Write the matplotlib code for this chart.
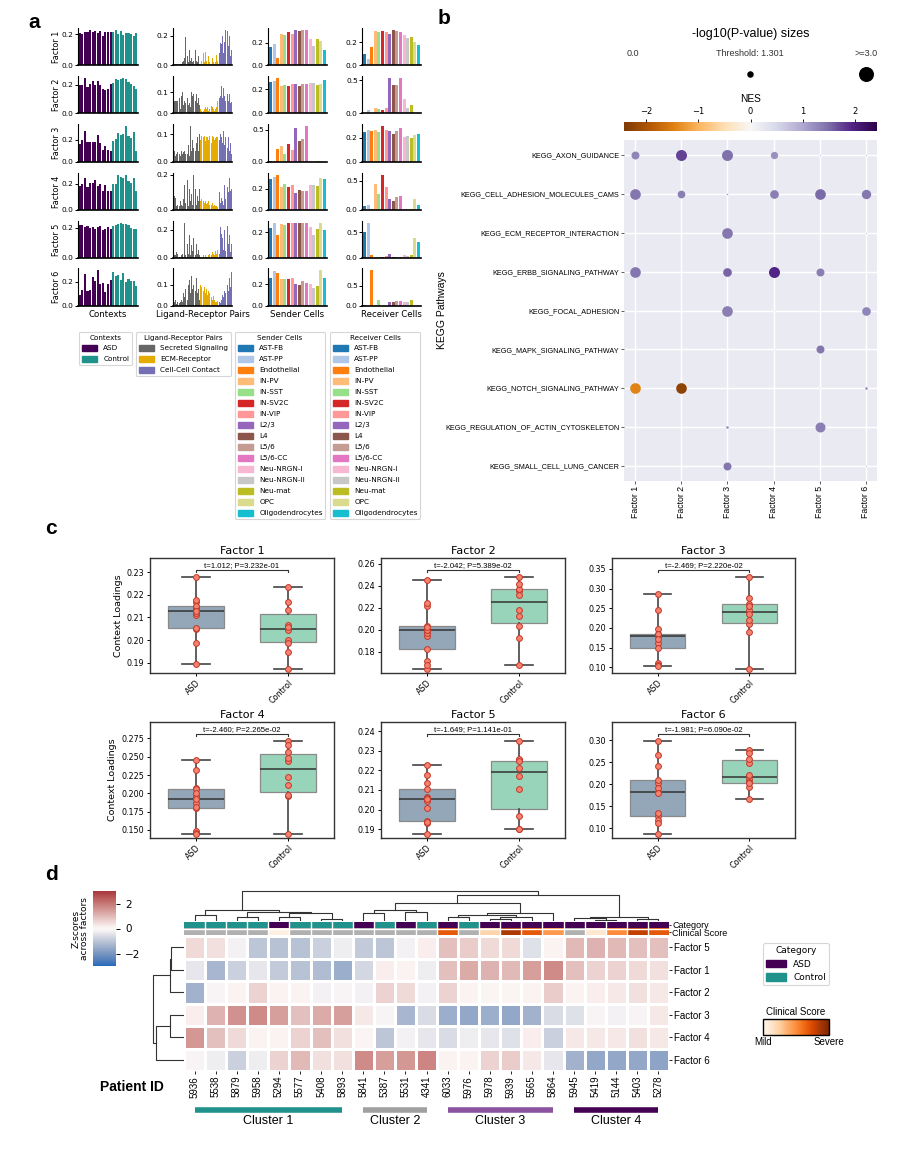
import numpy as np
import matplotlib
matplotlib.use("Agg")
import matplotlib.pyplot as plt
import seaborn as sns
from matplotlib.patches import Patch
from matplotlib.colors import Normalize, to_rgb
from matplotlib.cm import ScalarMappable

# ---------------- data ----------------
factors = ["Factor 1", "Factor 2", "Factor 3", "Factor 4", "Factor 5", "Factor 6"]

context_groups = ["ASD"] * 13 + ["Control"] * 10
context_loadings = [
    [0.2050, 0.1988, 0.2112, 0.2120, 0.2277, 0.2145, 0.2168, 0.2053, 0.2178, 0.1894, 0.2134, 0.2150, 0.2128,
     0.2132, 0.2233, 0.2003, 0.2168, 0.1950, 0.2044, 0.2068, 0.1988, 0.1874, 0.2056],
    [0.1940, 0.1970, 0.2455, 0.1827, 0.2039, 0.2220, 0.1997, 0.2245, 0.2003, 0.1720, 0.1645, 0.1680, 0.2024,
     0.2124, 0.2358, 0.2318, 0.2373, 0.2479, 0.2418, 0.2185, 0.2039, 0.1930, 0.1679],
    [0.1619, 0.1983, 0.2856, 0.1810, 0.1797, 0.1847, 0.1840, 0.2458, 0.1729, 0.1110, 0.1483, 0.1060, 0.1034,
     0.1890, 0.2102, 0.2610, 0.2466, 0.2550, 0.3288, 0.2364, 0.2212, 0.2763, 0.0958],
    [0.1863, 0.1964, 0.2460, 0.1804, 0.2079, 0.2065, 0.2313, 0.1820, 0.2000, 0.1482, 0.1928, 0.1465, 0.1450,
     0.1966, 0.1980, 0.2709, 0.2562, 0.2438, 0.2659, 0.2218, 0.2113, 0.2480, 0.1447],
    [0.2227, 0.2177, 0.2066, 0.2133, 0.2008, 0.2060, 0.1933, 0.2045, 0.2103, 0.1876, 0.1940, 0.2055, 0.1938,
     0.2107, 0.2210, 0.2250, 0.2347, 0.2258, 0.2246, 0.2172, 0.1969, 0.1902, 0.1900],
    [0.0877, 0.1276, 0.2671, 0.1199, 0.1352, 0.2425, 0.2042, 0.2977, 0.1835, 0.1927, 0.1123, 0.1812, 0.2103,
     0.2785, 0.2487, 0.2579, 0.2134, 0.2709, 0.1950, 0.2210, 0.2045, 0.2042, 0.1674],
]

lr_groups = ["Secreted Signaling"] * 30 + ["ECM-Receptor"] * 22 + ["Cell-Cell Contact"] * 14
lr_loadings = [
    [0.005, 0.005, 0.005, 0.005, 0.005, 0.005, 0.005, 0.005, 0.005, 0.005, 0.02, 0.03, 0.05, 0.19, 0.15,
     0.04, 0.06, 0.02, 0.10, 0.03, 0.05, 0.02, 0.03, 0.07, 0.02, 0.10, 0.03, 0.02, 0.06, 0.01,
     0.01, 0.03, 0.02, 0.04, 0.08, 0.02, 0.09, 0.03, 0.01, 0.06, 0.02, 0.08, 0.02, 0.01, 0.05, 0.02,
     0.01, 0.02, 0.07, 0.03, 0.06, 0.02,
     0.08, 0.15, 0.14, 0.20, 0.08, 0.16, 0.24, 0.22, 0.08, 0.23, 0.13, 0.20, 0.06, 0.10],
    [0.06, 0.06, 0.06, 0.06, 0.06, 0.03, 0.06, 0.07, 0.02, 0.08, 0.10, 0.04, 0.06, 0.05, 0.09,
     0.03, 0.07, 0.04, 0.05, 0.03, 0.10, 0.08, 0.09, 0.11, 0.10, 0.06, 0.09, 0.05, 0.07, 0.04,
     0.02, 0.01, 0.03, 0.02, 0.01, 0.02, 0.03, 0.02, 0.03, 0.01, 0.02, 0.03, 0.02, 0.035, 0.03, 0.02,
     0.01, 0.02, 0.03, 0.06, 0.17, 0.15,
     0.07, 0.08, 0.13, 0.07, 0.12, 0.08, 0.06, 0.10, 0.05, 0.09, 0.06, 0.09, 0.05, 0.055],
    [0.04, 0.04, 0.02, 0.03, 0.035, 0.01, 0.03, 0.03, 0.02, 0.04, 0.03, 0.035, 0.04, 0.03, 0.02,
     0.05, 0.03, 0.06, 0.02, 0.13, 0.04, 0.08, 0.05, 0.03, 0.06, 0.04, 0.07, 0.09, 0.04, 0.10,
     0.08, 0.095, 0.09, 0.07, 0.09, 0.095, 0.075, 0.09, 0.09, 0.08, 0.095, 0.085, 0.09, 0.07, 0.095, 0.09,
     0.08, 0.085, 0.09, 0.09, 0.10, 0.09,
     0.08, 0.10, 0.09, 0.07, 0.11, 0.06, 0.09, 0.08, 0.06, 0.05, 0.09, 0.04, 0.07, 0.03],
    [0.02, 0.08, 0.07, 0.02, 0.03, 0.01, 0.04, 0.02, 0.05, 0.03, 0.02, 0.06, 0.14, 0.04, 0.10,
     0.03, 0.17, 0.02, 0.12, 0.05, 0.09, 0.03, 0.20, 0.06, 0.04, 0.12, 0.03, 0.08, 0.05, 0.12,
     0.05, 0.06, 0.04, 0.06, 0.05, 0.04, 0.05, 0.035, 0.04, 0.05, 0.03, 0.04, 0.035, 0.03, 0.04, 0.02,
     0.03, 0.02, 0.025, 0.015, 0.02, 0.11,
     0.10, 0.04, 0.07, 0.05, 0.03, 0.14, 0.06, 0.09, 0.04, 0.13, 0.10, 0.18, 0.11, 0.12],
    [0.01, 0.02, 0.02, 0.04, 0.03, 0.01, 0.01, 0.01, 0.01, 0.02, 0.03, 0.01, 0.25, 0.02, 0.13,
     0.05, 0.10, 0.03, 0.16, 0.02, 0.09, 0.05, 0.14, 0.03, 0.07, 0.02, 0.10, 0.03, 0.06, 0.02,
     0.01, 0.005, 0.01, 0.01, 0.02, 0.01, 0.02, 0.01, 0.01, 0.02, 0.03, 0.02, 0.03, 0.02, 0.04, 0.03,
     0.02, 0.05, 0.03, 0.06, 0.04, 0.07,
     0.03, 0.22, 0.17, 0.14, 0.06, 0.20, 0.05, 0.12, 0.03, 0.23, 0.10, 0.16, 0.04, 0.10],
    [0.04, 0.02, 0.03, 0.01, 0.02, 0.02, 0.01, 0.015, 0.02, 0.03, 0.02, 0.06, 0.04, 0.08, 0.05,
     0.09, 0.03, 0.10, 0.12, 0.06, 0.14, 0.08, 0.10, 0.17, 0.05, 0.07, 0.13, 0.06, 0.08, 0.03,
     0.10, 0.09, 0.10, 0.08, 0.07, 0.09, 0.06, 0.08, 0.05, 0.07, 0.06, 0.04, 0.05, 0.04, 0.03, 0.045,
     0.03, 0.02, 0.02, 0.025, 0.015, 0.01,
     0.02, 0.015, 0.03, 0.05, 0.04, 0.07, 0.06, 0.08, 0.05, 0.10, 0.07, 0.13, 0.09, 0.16],
]

cell_types = ["AST-FB", "AST-PP", "Endothelial", "IN-PV", "IN-SST", "IN-SV2C", "IN-VIP", "L2/3", "L4",
              "L5/6", "L5/6-CC", "Neu-NRGN-I", "Neu-NRGN-II", "Neu-mat", "OPC", "Oligodendrocytes"]
sender_loadings = [
    [0.165, 0.19, 0.065, 0.28, 0.27, 0.30, 0.28, 0.32, 0.31, 0.32, 0.32, 0.24, 0.17, 0.235, 0.22, 0.14],
    [0.26, 0.27, 0.295, 0.225, 0.235, 0.23, 0.245, 0.245, 0.23, 0.24, 0.245, 0.25, 0.25, 0.235, 0.245, 0.275],
    [0.01, 0.01, 0.20, 0.24, 0.12, 0.28, 0.18, 0.53, 0.33, 0.36, 0.56, 0.01, 0.005, 0.02, 0.01, 0.005],
    [0.29, 0.31, 0.33, 0.22, 0.245, 0.215, 0.235, 0.16, 0.19, 0.18, 0.18, 0.235, 0.235, 0.225, 0.30, 0.29],
    [0.235, 0.275, 0.18, 0.265, 0.26, 0.275, 0.27, 0.27, 0.27, 0.275, 0.275, 0.24, 0.18, 0.23, 0.275, 0.22],
    [0.255, 0.32, 0.30, 0.245, 0.245, 0.245, 0.255, 0.20, 0.19, 0.23, 0.21, 0.20, 0.16, 0.18, 0.33, 0.255],
]
receiver_loadings = [
    [0.10, 0.055, 0.16, 0.30, 0.29, 0.30, 0.29, 0.27, 0.31, 0.30, 0.29, 0.265, 0.24, 0.25, 0.20, 0.18],
    [0.005, 0.04, 0.005, 0.08, 0.06, 0.04, 0.08, 0.53, 0.43, 0.43, 0.54, 0.21, 0.08, 0.12, 0.005, 0.005],
    [0.25, 0.265, 0.26, 0.265, 0.25, 0.30, 0.265, 0.26, 0.235, 0.26, 0.28, 0.21, 0.215, 0.20, 0.22, 0.235],
    [0.06, 0.09, 0.01, 0.44, 0.28, 0.60, 0.39, 0.19, 0.16, 0.22, 0.24, 0.02, 0.01, 0.02, 0.18, 0.08],
    [0.50, 0.68, 0.06, 0.01, 0.01, 0.01, 0.04, 0.08, 0.01, 0.01, 0.01, 0.05, 0.03, 0.06, 0.38, 0.31],
    [0.02, 0.01, 0.90, 0.02, 0.16, 0.01, 0.01, 0.11, 0.11, 0.13, 0.13, 0.09, 0.11, 0.14, 0.01, 0.01],
]

t_stats = [1.012, -2.042, -2.469, -2.460, -1.649, -1.981]
p_values = [3.232e-01, 5.389e-02, 2.220e-02, 2.265e-02, 1.141e-01, 6.090e-02]

pathways = ["KEGG_AXON_GUIDANCE", "KEGG_CELL_ADHESION_MOLECULES_CAMS", "KEGG_ECM_RECEPTOR_INTERACTION",
            "KEGG_ERBB_SIGNALING_PATHWAY", "KEGG_FOCAL_ADHESION", "KEGG_MAPK_SIGNALING_PATHWAY",
            "KEGG_NOTCH_SIGNALING_PATHWAY", "KEGG_REGULATION_OF_ACTIN_CYTOSKELETON", "KEGG_SMALL_CELL_LUNG_CANCER"]
nlog_p = [
    [1.60, 2.20, 2.20, 1.46, 0.20, 0.20],
    [2.13, 1.53, 0.30, 1.73, 2.13, 1.87],
    [0.00, 0.00, 2.13, 0.00, 0.00, 0.20],
    [2.13, 0.00, 1.73, 2.20, 1.60, 0.00],
    [0.00, 0.00, 2.13, 0.10, 0.00, 1.73],
    [0.00, 0.00, 0.00, 0.10, 1.60, 0.00],
    [2.13, 2.13, 0.00, 0.00, 0.10, 0.50],
    [0.00, 0.00, 0.50, 0.00, 2.00, 0.00],
    [0.00, 0.00, 1.60, 0.00, 0.00, 0.20],
]
nes = [
    [1.30, 1.75, 1.45, 1.20, 1.00, 1.00],
    [1.40, 1.35, 1.20, 1.35, 1.50, 1.40],
    [0.00, 0.00, 1.40, 0.00, 0.00, 1.00],
    [1.40, 0.00, 1.55, 1.95, 1.35, 0.00],
    [0.00, 0.00, 1.35, 1.00, 0.00, 1.30],
    [0.00, 0.00, 0.00, 1.00, 1.40, 0.00],
    [-1.45, -2.25, 0.00, 0.00, 1.00, 1.30],
    [0.00, 0.00, 1.30, 0.00, 1.35, 0.00],
    [0.00, 0.00, 1.40, 0.00, 0.00, 1.00],
]
size_legend_values = [0.0, 1.301, 3.0]
size_legend_labels = ["0.0", "Threshold: 1.301", ">=3.0"]

patient_ids = ["5936", "5538", "5879", "5958", "5294", "5577", "5408", "5893", "5841", "5387", "5531", "4341",
               "6033", "5976", "5978", "5939", "5565", "5864", "5945", "5419", "5144", "5403", "5278"]
patient_category = ["Control", "Control", "Control", "Control", "ASD", "Control", "Control", "Control",
                    "ASD", "Control", "ASD", "Control", "ASD", "Control", "ASD", "ASD", "ASD", "ASD",
                    "ASD", "ASD", "ASD", "ASD", "ASD"]
nan = float("nan")
clinical_score = [nan, nan, nan, nan, 0.05, nan, nan, nan, nan, nan, nan, nan,
                  0.68, nan, 0.22, 0.85, 0.68, 0.45, nan, 0.12, 0.50, 0.80, 0.68]
patient_cluster = [1] * 8 + [2] * 4 + [3] * 6 + [4] * 5
heat_rows = ["Factor 5", "Factor 1", "Factor 2", "Factor 3", "Factor 4", "Factor 6"]
zscores = [
    [0.5, 0.4, -0.2, -1.0, -1.1, -1.1, -0.8, -0.3, -0.9, -1.0, -0.2, 0.2, 0.9, 0.7, 0.5, 0.5, -0.5, 0.1, 1.0, 1.1, 1.0, 0.9, 0.9],
    [-0.4, -1.3, -0.8, -0.4, -0.9, -1.1, -1.2, -1.5, -0.7, 0.2, 0.1, -0.3, 0.9, 1.2, 1.1, 1.0, 1.4, 1.7, 0.9, 0.6, 0.6, 0.5, 0.4],
    [-1.4, -0.1, 0.1, 0.6, 0.1, 0.1, -0.2, -0.1, -0.2, 0.6, 0.5, -0.2, 0.6, 0.1, 0.05, 0.05, 0.1, 0.7, 0.1, 0.2, 0.3, 0.4, 0.3],
    [0.2, 1.1, 1.6, 1.7, 1.4, 0.9, 1.2, 1.4, 0.3, -0.1, -1.3, -0.6, -1.5, -1.6, -1.5, -1.6, -1.4, -0.6, -0.5, -0.1, -0.2, -0.1, 0.3],
    [1.5, 0.9, 0.5, 0.1, 0.1, 0.6, 0.9, 0.4, 0.0, -1.0, -0.2, -0.4, -0.6, -0.3, -0.4, -0.5, 0.2, -0.8, 0.3, 0.3, 0.3, 0.4, 0.3],
    [-0.1, -0.3, -0.8, -0.3, 0.6, 1.0, 0.4, 0.4, 1.7, 1.4, 1.5, 1.8, 0.1, 0.1, 0.6, 0.7, 0.3, -0.4, -1.4, -1.6, -1.6, -1.6, -1.7],
]
# dendrograms as (left, right, distance); leaves are displayed positions
col_tree = (((0, 1, 2.0), ((2, 3, 1.3), ((4, 5, 1.3), (6, 7, 0.7), 2.6), 3.0), 3.7),
            ((((8, 9, 2.7), (10, 11, 3.0), 3.6),
              ((((12, 13, 1.3), ((14, 15, 0.8), 16, 1.3), 2.0), 17, 2.7)), 6.0),
             ((18, (19, 20, 0.5), 1.0), (21, 22, 0.7), 1.4), 8.7), 10.0)
row_tree = ((((0, 1, 13), 2, 14)), ((3, 4, 14), 5, 28), 31)

# ---------------- styling ----------------
context_palette = {"ASD": "#440154", "Control": "#21918c"}
lr_palette = {"Secreted Signaling": "#666666", "ECM-Receptor": "#e6ab02", "Cell-Cell Contact": "#7570b3"}
cell_palette = ["#1f77b4", "#aec7e8", "#ff7f0e", "#ffbb78", "#98df8a", "#d62728", "#ff9896", "#9467bd",
                "#8c564b", "#c49c94", "#e377c2", "#f7b6d2", "#c7c7c7", "#bcbd22", "#dbdb8d", "#17becf"]
cluster_colors = {1: "#21918c", 2: "#a0a0a0", 3: "#8a529f", 4: "#440154"}
ARIAL = "Liberation Sans"

W, H = 923, 1152
fig = plt.figure(figsize=(W / 100, H / 100), dpi=100)


def add_ax(l, t, r, b):
    return fig.add_axes([l / W, 1 - b / H, (r - l) / W, (b - t) / H])


def ftext(x, y, s, **kw):
    return fig.text(x / W, 1 - y / H, s, **kw)


# ---------------- panel a ----------------
col_l = [78, 173, 268, 362]
col_r = [138, 232, 327, 421]
row_t = [28, 76, 124, 173, 221, 268]
row_b = [65, 113, 162, 210, 258, 306]
blocks = [
    ("Contexts", context_loadings, [context_palette[g] for g in context_groups], 0.8),
    ("Ligand-Receptor Pairs", lr_loadings, [lr_palette[g] for g in lr_groups], 0.9),
    ("Sender Cells", sender_loadings, cell_palette, 0.8),
    ("Receiver Cells", receiver_loadings, cell_palette, 0.8),
]
for i in range(6):
    for j, (label, vals, colors, w) in enumerate(blocks):
        ax = add_ax(col_l[j], row_t[i], col_r[j], row_b[i])
        v = vals[i]
        ax.bar(np.arange(len(v)), v, width=w, color=colors, linewidth=0)
        top = max(v)
        step = 0.1 if top < 0.2 else (0.2 if top < 0.5 else 0.5)
        ax.set_yticks([0, step])
        ax.set_yticklabels([f"{t:.1f}" for t in (0, step)])
        ax.set_xticks([])
        ax.set_xlim(-0.7, len(v) - 0.3)
        for s in ["top", "right"]:
            ax.spines[s].set_visible(False)
        ax.spines["bottom"].set_linewidth(1.2)
        ax.spines["left"].set_linewidth(0.8)
        ax.tick_params(labelsize=5.3, length=2, pad=1, width=0.7)
        if j == 0:
            ax.set_ylabel(factors[i], fontsize=5.8, labelpad=1)
        if i == 5:
            ax.set_xlabel(label, fontsize=6.2, labelpad=3)


def px_legend(handles, title, x, y, fs=5.2, spacing=0.62, **kw):
    leg = fig.legend(handles=handles, title=title, loc="upper left", bbox_to_anchor=(x / W, 1 - y / H),
                     fontsize=fs, title_fontsize=fs, frameon=True, handlelength=2.2, handleheight=0.9,
                     labelspacing=spacing, borderpad=0.35, borderaxespad=0, handletextpad=0.8,
                     edgecolor="#cccccc", fancybox=True, **kw)
    leg.get_frame().set_linewidth(0.8)
    return leg


px_legend([Patch(color=context_palette[k], label=k) for k in context_palette], "Contexts", 79, 332)
px_legend([Patch(color=lr_palette[k], label=k) for k in lr_palette], "Ligand-Receptor Pairs", 136, 332)
px_legend([Patch(color=cell_palette[k], label=c) for k, c in enumerate(cell_types)], "Sender Cells", 235, 332)
px_legend([Patch(color=cell_palette[k], label=c) for k, c in enumerate(cell_types)], "Receiver Cells", 330, 332)

# ---------------- panel b ----------------
axb = add_ax(624, 140, 877, 481)
axb.set_facecolor("#EAEAF2")
norm = Normalize(-2.42, 2.42)
cmap_nes = plt.get_cmap("PuOr")
px_per_unit = 5.0
for pi in range(len(pathways)):
    for fi in range(6):
        val = min(nlog_p[pi][fi], 3.0)
        if val <= 0:
            continue
        axb.scatter(fi, pi, s=(px_per_unit * val * 0.72) ** 2, color=cmap_nes(norm(nes[pi][fi])),
                    linewidth=0, zorder=3)
axb.set_xticks(range(6))
axb.set_xticklabels(factors, rotation=90, fontsize=6.3, family=ARIAL)
axb.set_yticks(range(len(pathways)))
axb.set_yticklabels(pathways, fontsize=5.2, family=ARIAL)
axb.set_xlim(-0.24, 5.24)
axb.set_ylim(len(pathways) - 1 + 0.39, -0.39)
axb.grid(color="white", linewidth=1.0)
axb.set_axisbelow(True)
for s in axb.spines.values():
    s.set_visible(False)
axb.tick_params(length=2, width=0.6, color="#444444", pad=1.5)
ftext(442, 310, "KEGG Pathways", rotation=90, ha="center", va="center", fontsize=7.5, family=ARIAL)

cax = add_ax(624, 122, 877, 131)
cb = fig.colorbar(ScalarMappable(norm=norm, cmap=cmap_nes), cax=cax, orientation="horizontal")
cax.xaxis.set_ticks_position("top")
cax.xaxis.set_label_position("top")
cb.set_ticks([-2, -1, 0, 1, 2])
cb.outline.set_visible(False)
cax.tick_params(labelsize=6, length=2.5, width=0.6, pad=1.5)
cb.set_label("NES", fontsize=7.3, family=ARIAL, labelpad=4)

axl = add_ax(600, 25, 900, 88)
axl.set_xlim(600, 900)
axl.set_ylim(88, 25)
axl.axis("off")
leg_x = np.linspace(633, 866, len(size_legend_values))
for xv, v, lab in zip(leg_x, size_legend_values, size_legend_labels):
    axl.text(xv, 54, lab, ha="center", va="center", fontsize=6.5, family=ARIAL, color="#333333")
    if v > 0:
        axl.scatter(xv, 74, s=(px_per_unit * min(v, 3.0) * 0.72) ** 2, color="black", linewidth=0)
ftext(751, 34, "-log10(P-value) sizes", ha="center", va="center", fontsize=9, family=ARIAL)

# ---------------- panel c ----------------
c_cols = [(150, 334), (381, 565), (612, 795)]
c_rows = [(558, 673), (722, 838)]
box_colors = {"ASD": "#93a7b8", "Control": "#98d4b9"}
groups = ["ASD", "Control"]
for f in range(6):
    (l, r), (t, b) = c_cols[f % 3], c_rows[f // 3]
    ax = add_ax(l, t, r, b)
    vals = np.array(context_loadings[f])
    data = [vals[[g == grp for g in context_groups]] for grp in groups]
    bp = ax.boxplot(data, positions=[0, 1], widths=0.6, whis=(0, 100), patch_artist=True,
                    showfliers=False, zorder=1,
                    medianprops=dict(color="#333333", linewidth=1.1),
                    whiskerprops=dict(color="#444444", linewidth=1.2),
                    capprops=dict(color="#444444", linewidth=1.2),
                    boxprops=dict(edgecolor="#8a8a8a", linewidth=0.9))
    for patch, grp in zip(bp["boxes"], groups):
        patch.set_facecolor(box_colors[grp])
    for k, d in enumerate(data):
        ax.plot(np.full(len(d), k), d, "o", ms=4.2, mfc="#f4826f", mec="#c0392b", mew=0.7, zorder=3)
    lo, hi = vals.min(), vals.max()
    rng = hi - lo
    ax.set_ylim(lo - 0.045 * rng, hi + 0.21 * rng)
    ax.set_xlim(-0.5, 1.5)
    yb = hi + 0.08 * rng
    ax.plot([0, 0, 1, 1], [yb - 0.025 * rng, yb, yb, yb - 0.025 * rng], color="#333333", lw=0.8)
    ax.text(0.5, yb + 0.012 * rng, f"t={t_stats[f]:.3f}; P={p_values[f]:.3e}", ha="center", va="bottom",
            fontsize=5.6, family=ARIAL)
    ax.set_xticks([0, 1])
    ax.set_xticklabels(groups, rotation=45, ha="right", rotation_mode="anchor")
    ax.tick_params(labelsize=5.8, length=2.5, width=0.7, pad=1.5)
    for s in ax.spines.values():
        s.set_color("#333333")
        s.set_linewidth(1.0)
    ax.set_title(factors[f], fontsize=8, pad=3)
    if f % 3 == 0:
        ax.set_ylabel("Context Loadings", fontsize=6.8, labelpad=3)

# ---------------- panel d ----------------
n_p = len(patient_ids)
vlag = sns.color_palette("vlag", as_cmap=True)
axh = add_ax(184, 936, 669, 1071)
axh.pcolormesh(np.array(zscores), cmap=vlag, vmin=-3, vmax=3, edgecolors="white", linewidth=1.0)
axh.set_xlim(0, n_p)
axh.set_ylim(len(heat_rows), 0)
axh.set_xticks(np.arange(n_p) + 0.5)
axh.set_xticklabels(patient_ids, rotation=90, fontsize=7, family=ARIAL)
axh.yaxis.tick_right()
axh.set_yticks(np.arange(len(heat_rows)) + 0.5)
axh.set_yticklabels(heat_rows, fontsize=7, family=ARIAL)
axh.tick_params(length=2, width=0.6, pad=1.5)
for s in axh.spines.values():
    s.set_visible(False)

axa = add_ax(184, 922, 669, 935)
oranges = plt.get_cmap("Oranges")
rgb = np.zeros((2, n_p, 3))
for k in range(n_p):
    rgb[0, k] = to_rgb(context_palette[patient_category[k]])
    cs = clinical_score[k]
    rgb[1, k] = to_rgb("#b0b0b0") if np.isnan(cs) else oranges(cs)[:3]
axa.imshow(rgb, aspect="auto", extent=(0, n_p, 2, 0), interpolation="nearest")
for k in range(1, n_p):
    axa.axvline(k, color="white", lw=1.0)
axa.axhline(1, color="white", lw=1.0)
axa.set_xlim(0, n_p)
axa.set_ylim(2, 0)
axa.set_xticks([])
axa.yaxis.tick_right()
axa.set_yticks([0.4, 1.6])
axa.set_yticklabels(["Category", "Clinical Score"], fontsize=6.5, family=ARIAL)
axa.tick_params(length=1.5, width=0.6, pad=1)
for s in axa.spines.values():
    s.set_visible(False)


def draw_tree(ax, node, orient):
    if isinstance(node, int):
        return node + 0.5, 0.0
    left, right, d = node
    cl, hl = draw_tree(ax, left, orient)
    cr, hr = draw_tree(ax, right, orient)
    xs, ys = [cl, cl, cr, cr], [hl, d, d, hr]
    if orient == "top":
        ax.plot(xs, ys, color="#333333", lw=0.8)
    else:
        ax.plot(ys, xs, color="#333333", lw=0.8)
    return (cl + cr) / 2, d


axcd = add_ax(184, 888, 669, 921)
draw_tree(axcd, col_tree, "top")
axcd.set_xlim(0, n_p)
axcd.set_ylim(0, 11)
axcd.axis("off")

axrd = add_ax(150, 936, 184, 1071)
draw_tree(axrd, row_tree, "left")
axrd.set_xlim(34, 0)
axrd.set_ylim(len(heat_rows), 0)
axrd.axis("off")

axz = add_ax(93, 891, 116, 966)
cbz = fig.colorbar(ScalarMappable(norm=Normalize(-3, 3), cmap=vlag), cax=axz)
cbz.set_ticks([-2, 0, 2])
cbz.outline.set_visible(False)
axz.yaxis.set_ticks_position("right")
axz.tick_params(labelsize=7.5, length=3, width=0.7)
axz.yaxis.set_label_position("left")
axz.set_ylabel("Z-scores\nacross factors", fontsize=6.5, labelpad=3, linespacing=0.95)

axcl = add_ax(184, 1100, 669, 1130)
axcl.set_xlim(0, n_p)
axcl.set_ylim(1, 0)
axcl.axis("off")
for c in sorted(set(patient_cluster)):
    idx = [k for k, v in enumerate(patient_cluster) if v == c]
    x0, x1 = idx[0] + 0.5, idx[-1] + 0.5
    axcl.plot([x0, x1], [0.33, 0.33], color=cluster_colors[c], lw=4, solid_capstyle="butt")
    axcl.text((x0 + x1) / 2, 0.7, f"Cluster {c}", ha="center", va="center", fontsize=9, family=ARIAL)

ftext(132, 1087, "Patient ID", ha="center", va="center", fontsize=10, fontweight="bold", family=ARIAL)

px_legend([Patch(color=context_palette[k], label=k) for k in context_palette], "Category", 763, 943,
          fs=6.5, spacing=0.5)

axcs = add_ax(763, 1019, 829, 1035)
cbc = fig.colorbar(ScalarMappable(norm=Normalize(0, 1), cmap=oranges), cax=axcs, orientation="horizontal")
cbc.set_ticks([])
cbc.outline.set_linewidth(1.0)
cbc.outline.set_edgecolor("black")
ftext(796, 1012, "Clinical Score", ha="center", va="center", fontsize=7, family=ARIAL)
ftext(763, 1042, "Mild", ha="center", va="center", fontsize=7, family=ARIAL)
ftext(829, 1042, "Severe", ha="center", va="center", fontsize=7, family=ARIAL)

# ---------------- panel letters ----------------
for lab, x, y in [("a", 34, 22), ("b", 444, 19), ("c", 51, 529), ("d", 51, 875)]:
    ftext(x, y, lab, ha="center", va="center", fontsize=15, fontweight="bold", family=ARIAL)

fig.savefig("out.png", dpi=100)
